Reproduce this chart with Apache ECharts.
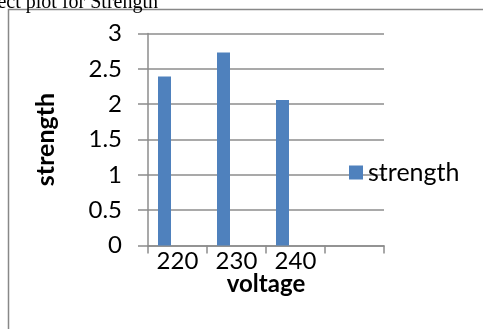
<!DOCTYPE html>
<html>
<head>
<meta charset="utf-8">
<script src="https://cdn.jsdelivr.net/npm/echarts@6/dist/echarts.min.js"></script>
<style>
  html, body { margin: 0; padding: 0; background: #fff; }
  #chart { width: 483px; height: 329px; }
</style>
</head>
<body>
<div id="chart"></div>
<script>
// Voltage levels on the category axis (last slot left empty)
const voltage = ['220', '230', '240', ''];
// Mean strength at each voltage
const strength = [2.39, 2.73, 2.06, null];
// Second, empty slot of each cluster
const spare = [null, null, null, null];
const yTicks = { min: 0, max: 3, step: 0.5 };

const FONT = 'Lato, "Open Sans", sans-serif';
const GRID_COLOR = '#8c8c8c';

const chart = echarts.init(document.getElementById('chart'), null, { renderer: 'canvas' });
chart.setOption({
  backgroundColor: '#ffffff',
  animation: false,
  grid: { left: 148, right: 99, top: 33.5, bottom: 83.5 },
  legend: {
    data: ['strength'],
    left: 344, top: 155,
    icon: 'rect', itemWidth: 14, itemHeight: 14, itemGap: 4,
    textStyle: { fontFamily: FONT, fontSize: 25, color: '#000' }
  },
  xAxis: {
    type: 'category',
    data: voltage,
    name: 'voltage',
    nameLocation: 'middle',
    nameGap: 27,
    nameMoveOverlap: false,
    nameTextStyle: { fontFamily: FONT, fontSize: 24, fontWeight: 'bold', color: '#000' },
    axisLine: { lineStyle: { color: GRID_COLOR, width: 1.5 } },
    axisTick: { show: true, length: 8, lineStyle: { color: GRID_COLOR, width: 1.5 } },
    axisLabel: { fontFamily: FONT, fontSize: 24, color: '#000', margin: 4 }
  },
  yAxis: {
    type: 'value',
    min: yTicks.min, max: yTicks.max, interval: yTicks.step,
    name: 'strength',
    nameLocation: 'middle',
    nameGap: 90,
    nameMoveOverlap: false,
    nameTextStyle: { fontFamily: FONT, fontSize: 25, fontWeight: 'bold', color: '#000' },
    axisLine: { show: true, lineStyle: { color: GRID_COLOR, width: 1.5 } },
    axisTick: { show: true, length: 10, lineStyle: { color: GRID_COLOR, width: 1.5 } },
    splitLine: { lineStyle: { color: GRID_COLOR, width: 1.5 } },
    axisLabel: { fontFamily: FONT, fontSize: 24, color: '#000', margin: 26 }
  },
  series: [
    {
      name: 'strength', type: 'bar', data: strength,
      barWidth: 13, barGap: '100%',
      itemStyle: { color: '#4f81bd' }
    },
    {
      name: 'spare', type: 'bar', data: spare,
      barWidth: 13,
      itemStyle: { color: '#c0504d' }
    }
  ],
  graphic: [
    {
      type: 'rect',
      shape: { x: 8.5, y: 9.5, width: 600, height: 500 },
      style: { fill: 'none', stroke: '#888888', lineWidth: 1.5 },
      silent: true
    },
    {
      type: 'text',
      x: 158, y: 13,
      style: {
        text: 'Effect plot for Strength',
        font: '20px "Liberation Serif", "Times New Roman", serif',
        fill: '#000', align: 'right', verticalAlign: 'bottom'
      },
      silent: true
    }
  ]
});
</script>
</body>
</html>
